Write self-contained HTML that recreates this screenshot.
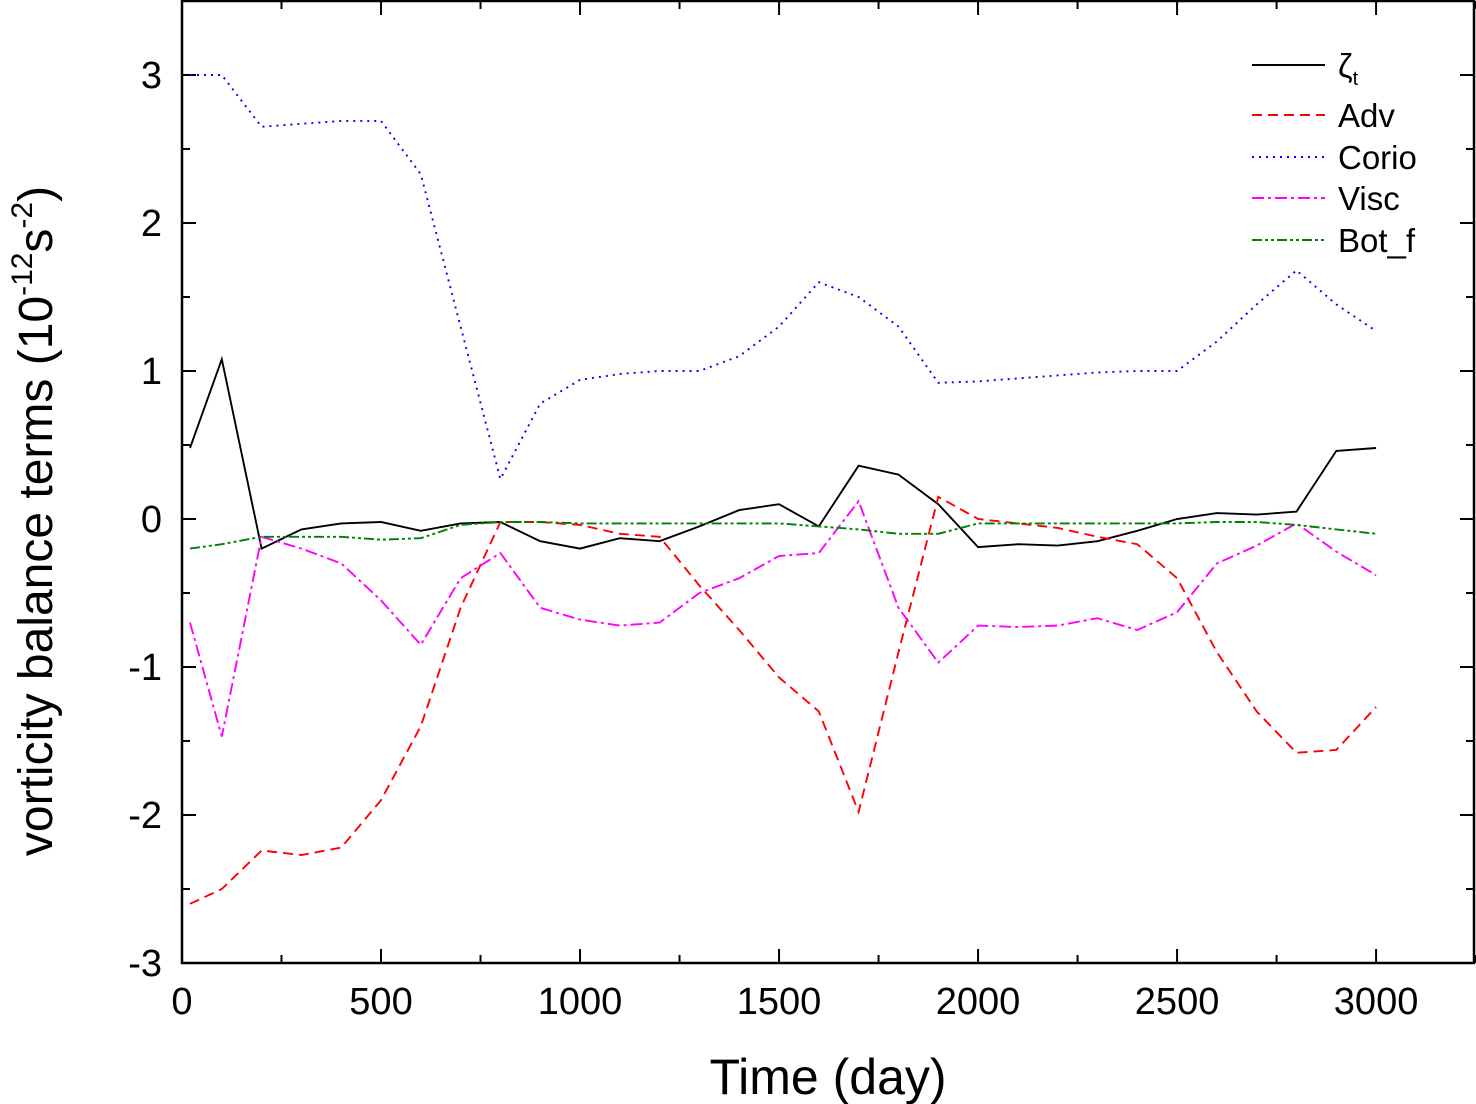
<!DOCTYPE html>
<html><head><meta charset="utf-8"><style>
html,body{margin:0;padding:0;background:#fff;}
svg{display:block;font-family:"Liberation Sans",Arial,sans-serif;}
</style></head><body>
<svg id="chart" width="1476" height="1104" viewBox="0 0 1476 1104">
<g id="axes"></g>
<g id="series"></g>
<g id="legend"></g>
<text x="828" y="1094" font-size="50" text-anchor="middle">Time (day)</text>
<text transform="translate(52,521) rotate(-90)" font-size="48" text-anchor="middle">vorticity balance terms (10<tspan dy="-20" font-size="30">-12</tspan><tspan dy="20">s</tspan><tspan dy="-20" font-size="30">-2</tspan><tspan dy="20">)</tspan></text>
</svg>
<script>
const days = [20,100,200,300,400,500,600,700,800,900,1000,1100,1200,1300,1400,1500,1600,1700,1800,1900,2000,2100,2200,2300,2400,2500,2600,2700,2800,2900,3000];
const zetaT = [0.48,1.08,-0.2,-0.07,-0.03,-0.02,-0.08,-0.03,-0.02,-0.15,-0.2,-0.13,-0.15,-0.05,0.06,0.1,-0.05,0.36,0.3,0.1,-0.19,-0.17,-0.18,-0.15,-0.08,0,0.04,0.03,0.05,0.46,0.48];
const adv = [-2.6,-2.5,-2.24,-2.27,-2.22,-1.9,-1.4,-0.6,-0.02,-0.02,-0.04,-0.1,-0.12,-0.45,-0.75,-1.07,-1.3,-1.98,-0.9,0.15,0,-0.03,-0.06,-0.12,-0.17,-0.4,-0.9,-1.3,-1.58,-1.56,-1.27];
const corio = [3.0,3.0,2.65,2.67,2.69,2.69,2.33,1.3,0.27,0.78,0.94,0.98,1.0,1.0,1.1,1.3,1.6,1.5,1.3,0.92,0.93,0.95,0.97,0.99,1.0,1.0,1.2,1.45,1.68,1.45,1.27];
const visc = [-0.7,-1.47,-0.12,-0.2,-0.3,-0.55,-0.85,-0.4,-0.23,-0.6,-0.68,-0.72,-0.7,-0.5,-0.4,-0.25,-0.23,0.12,-0.6,-0.97,-0.72,-0.73,-0.72,-0.67,-0.75,-0.63,-0.3,-0.18,-0.03,-0.22,-0.38];
const botF = [-0.2,-0.17,-0.12,-0.12,-0.12,-0.14,-0.13,-0.04,-0.02,-0.02,-0.03,-0.03,-0.03,-0.03,-0.03,-0.03,-0.05,-0.07,-0.1,-0.1,-0.03,-0.03,-0.03,-0.03,-0.03,-0.03,-0.02,-0.02,-0.04,-0.07,-0.1];
const xTicks = [0,500,1000,1500,2000,2500,3000];
const yTicks = [-3,-2,-1,0,1,2,3];
const seriesNames = ["zeta-t","adv","corio","visc","bot-f"];
const legendLabels = ["ζ","Adv","Corio","Visc","Bot_f"];

const NS="http://www.w3.org/2000/svg";
const L=182,R=1474,T=1,B=963;
const xMin=0,xMax=3246,yMin=-3,yMax=3.5;
const xs=v=>L+(v-xMin)/(xMax-xMin)*(R-L);
const ys=v=>B-(v-yMin)/(yMax-yMin)*(B-T);
function mk(tag,attrs,parent){const e=document.createElementNS(NS,tag);for(const k in attrs)e.setAttribute(k,attrs[k]);parent.appendChild(e);return e;}
const axes=document.getElementById('axes');
const frame=mk('rect',{x:L,y:T,width:R-L,height:B-T,fill:'none',stroke:'#000','stroke-width':2.5},axes);


for(let v=0;v<=3250;v+=250){
  const len=(v%500===0)?14:8;
  const t=mk('line',{x1:xs(v),x2:xs(v),y1:B,y2:B-len,stroke:'#000','stroke-width':2},axes);
  
  
  const t2=mk('line',{x1:xs(v),x2:xs(v),y1:T,y2:T+len,stroke:'#000','stroke-width':2},axes);
  
  
}
for(let v=-3;v<=3.5;v+=0.5){
  const len=(Math.abs(v%1)<1e-9)?14:8;
  const a=mk('line',{x1:L,x2:L+len,y1:ys(v),y2:ys(v),stroke:'#000','stroke-width':2},axes);
  
  
  const b=mk('line',{x1:R,x2:R-len,y1:ys(v),y2:ys(v),stroke:'#000','stroke-width':2},axes);
  
  
}
xTicks.forEach(v=>{const t=mk('text',{x:xs(v),y:1014,'font-size':38,'text-anchor':'middle'},axes);t.textContent=v;
  
  });
yTicks.forEach(v=>{const t=mk('text',{x:162,y:ys(v)+13,'font-size':38,'text-anchor':'end'},axes);t.textContent=v;
  
  });
const styles=[{c:'#000',d:''},{c:'#ff0000',d:'10,6'},{c:'#0000ff',d:'2,5'},{c:'#ff00ff',d:'12,4,3,4'},{c:'#008000',d:'10,3,3,3,3,3'}];
const data=[zetaT,adv,corio,visc,botF];
const sg=document.getElementById('series');
data.forEach((arr,i)=>{
  const d=arr.map((v,j)=>(j?'L':'M')+xs(days[j]).toFixed(1)+','+ys(v).toFixed(1)).join(' ');
  const p=mk('path',{d:d,fill:'none',stroke:styles[i].c,'stroke-width':1.9,'stroke-dasharray':styles[i].d},sg);
  
  
});
const lg=document.getElementById('legend');
const ly=[65,115,157,198,240];
legendLabels.forEach((lab,i)=>{
  const l=mk('line',{x1:1252,x2:1325,y1:ly[i],y2:ly[i],stroke:styles[i].c,'stroke-width':2,'stroke-dasharray':styles[i].d},lg);
  
  
  const t=mk('text',{x:1338,y:ly[i]+12,'font-size':33},lg);
  t.textContent=lab;
  if(i===0){const s=mk('tspan',{dy:8,'font-size':20},t);s.textContent='t';}
  
  
});
</script>
</body></html>
